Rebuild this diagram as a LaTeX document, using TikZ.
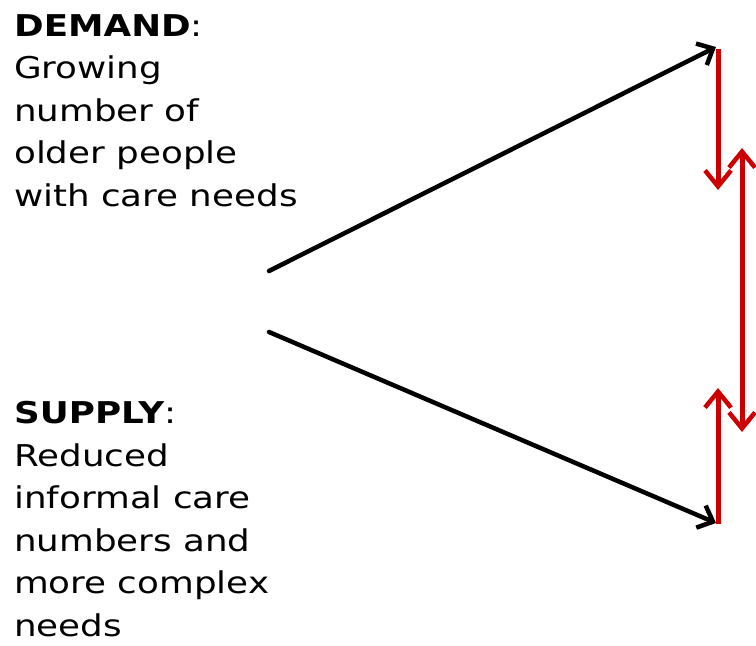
\documentclass[tikz,border=0pt]{standalone}
\usepackage{fontspec}
\setmainfont{DejaVu Sans}[FakeStretch=1.19]
\usetikzlibrary{arrows.meta}
\definecolor{arrred}{RGB}{204,0,0}
\tikzset{
  lbl/.style={anchor=base west, inner sep=0pt, align=left, font=\fontsize{30}{42.5}\selectfont},
  blk/.style={line width=4.5pt, black, line cap=round, -{Straight Barb[length=13pt,width=24pt,line width=4.5pt]}},
  redl/.style={line width=5pt, arrred, -{Straight Barb[length=16pt,width=26pt,line width=4.5pt]}},
  redd/.style={line width=5pt, arrred, {Straight Barb[length=16pt,width=26pt,line width=4.5pt]}-{Straight Barb[length=16pt,width=26pt,line width=4.5pt]}}
}
\begin{document}
\begin{tikzpicture}[x=1pt,y=-1pt]
\useasboundingbox (0,0) rectangle (756,646);
\node[lbl] (demand) at (14,206) {\textbf{DEMAND}:\\Growing\\number of\\older people\\with care needs};
\node[lbl] (supply) at (14,636) {\textbf{SUPPLY}:\\Reduced\\informal care\\numbers and\\more complex\\needs};
\coordinate (d0) at (269,271);
\coordinate (d1) at (716,47);
\coordinate (s0) at (269,332);
\coordinate (s1) at (716,523);
\coordinate (r0) at (718,49);
\coordinate (r1) at (718,190);
\coordinate (r3) at (718,524);
\coordinate (r2) at (718,388);
\coordinate (rt) at (742,148);
\coordinate (rb) at (742,432);
\draw[blk] (d0) -- (d1);
\draw[blk] (s0) -- (s1);
\draw[redl] (r0) -- (r1);
\draw[redl] (r3) -- (r2);
\draw[redd] (rt) -- (rb);
\end{tikzpicture}
\end{document}
